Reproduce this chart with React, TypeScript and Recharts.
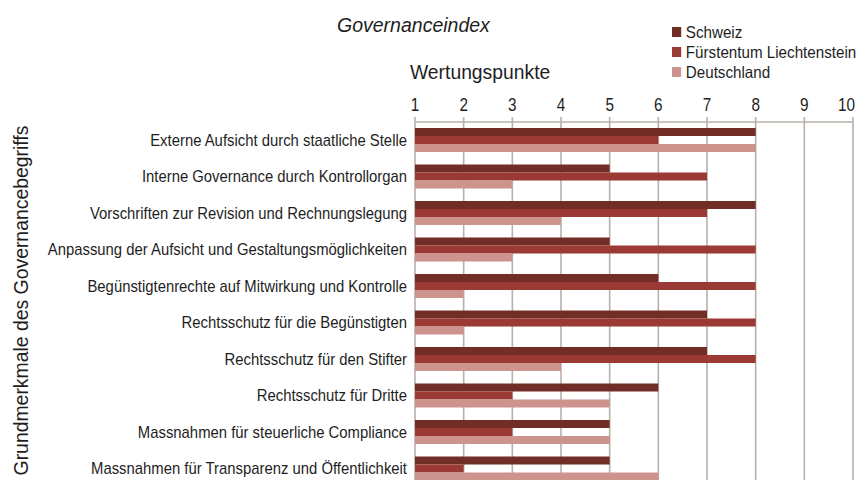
import React from 'react';
import { BarChart, Bar, XAxis, YAxis, CartesianGrid, Legend } from 'recharts';

const categories = [
  'Externe Aufsicht durch staatliche Stelle',
  'Interne Governance durch Kontrollorgan',
  'Vorschriften zur Revision und Rechnungslegung',
  'Anpassung der Aufsicht und Gestaltungsmöglichkeiten',
  'Begünstigtenrechte auf Mitwirkung und Kontrolle',
  'Rechtsschutz für die Begünstigten',
  'Rechtsschutz für den Stifter',
  'Rechtsschutz für Dritte',
  'Massnahmen für steuerliche Compliance',
  'Massnahmen für Transparenz und Öffentlichkeit',
];
const schweiz = [8, 5, 8, 5, 6, 7, 7, 6, 5, 5];
const liechtenstein = [6, 7, 7, 8, 8, 8, 8, 3, 3, 2];
const deutschland = [8, 3, 4, 3, 2, 2, 4, 5, 5, 6];
const xTicks = [1, 2, 3, 4, 5, 6, 7, 8, 9, 10];
const seriesKeys = ['schweiz', 'liechtenstein', 'deutschland'];
const seriesNames = ['Schweiz', 'Fürstentum Liechtenstein', 'Deutschland'];
const seriesColors = ['#722d27', '#9b3935', '#cc948d'];

const title = 'Governanceindex';
const xTitle = 'Wertungspunkte';
const yTitle = 'Grundmerkmale des Governancebegriffs';

const data = categories.map((c, i) => ({
  name: c,
  schweiz: schweiz[i],
  liechtenstein: liechtenstein[i],
  deutschland: deutschland[i],
}));

const FONT = '"Liberation Sans", Arial, sans-serif';
const GRID = '#b9b1a9';
const TEXT = '#1e1e1e';

const LegendContent = () => (
  <div style={{ fontFamily: FONT, fontSize: 16.5, color: TEXT, lineHeight: '20px', transform: 'scaleX(0.92)', transformOrigin: 'left top', whiteSpace: 'nowrap', width: 240 }}>
    {seriesNames.map((n, i) => (
      <div key={n} style={{ display: 'flex', alignItems: 'center' }}>
        <span style={{ display: 'inline-block', flexShrink: 0, width: 10, height: 10, background: seriesColors[i], marginRight: 5 }} />
        <span>{n}</span>
      </div>
    ))}
  </div>
);

const YLabel = (props: any) => {
  const vb = props.viewBox || {};
  const cx = 21;
  const cy = vb.y + vb.height / 2 - 4;
  return (
    <g transform={`translate(${cx}, ${cy}) rotate(-90) scale(0.97, 1)`}>
      <text x={0} y={0} textAnchor="middle" dominantBaseline="central" fontFamily={FONT} fontSize={20} fill={TEXT}>
        {yTitle}
      </text>
    </g>
  );
};

const YTick = (props: any) => {
  const { x, y, payload } = props;
  return (
    <g transform={`translate(${x}, ${y}) scale(0.918, 1)`}>
      <text x={0} y={0} textAnchor="end" dominantBaseline="central" fontFamily={FONT} fontSize={16.2} fill={TEXT}>
        {payload.value}
      </text>
    </g>
  );
};

const XTick = (props: any) => {
  const { x, y, payload, index } = props;
  const isLast = index === xTicks.length - 1;
  return (
    <g transform={`translate(${isLast ? x + 2 : x}, ${y}) scale(0.85, 1)`}>
      <text x={0} y={0} textAnchor={isLast ? 'end' : 'middle'} fontFamily={FONT} fontSize={18} fill={TEXT}>
        {payload.value}
      </text>
    </g>
  );
};

export default function App() {
  return (
    <div style={{ position: 'absolute', left: 0, top: 0, width: 860, height: 480, overflow: 'hidden', background: '#fff' }}>
      <div style={{ position: 'absolute', left: 337, top: 14, fontFamily: FONT, fontStyle: 'italic', fontSize: 19.5, color: TEXT, whiteSpace: 'nowrap' }}>
        {title}
      </div>
      <div style={{ position: 'absolute', left: 410, top: 61, fontFamily: FONT, fontSize: 19.5, color: TEXT, whiteSpace: 'nowrap', transform: 'scaleX(0.99)', transformOrigin: 'left top' }}>
        {xTitle}
      </div>
      <BarChart
        width={860}
        height={490}
        data={data}
        layout="vertical"
        margin={{ top: 90, right: 7, left: 0, bottom: 3 }}
        barGap={0}
        barSize={8}
      >
        <CartesianGrid horizontal={false} stroke={GRID} strokeWidth={1.6} />
        <XAxis
          type="number"
          orientation="top"
          domain={[1, 10]}
          ticks={xTicks}
          interval={0}
          height={32}
          tickSize={5}
          tickMargin={6}
          axisLine={{ stroke: GRID, strokeWidth: 1.6 }}
          tickLine={{ stroke: GRID, strokeWidth: 1.6 }}
          tick={<XTick />}
        />
        <YAxis
          type="category"
          dataKey="name"
          width={415}
          interval={0}
          tickLine={false}
          axisLine={false}
          tickSize={8}
          tickMargin={0}
          tick={<YTick />}
          label={<YLabel />}
        />
        <Legend
          layout="horizontal"
          verticalAlign="middle"
          align="center"
          wrapperStyle={{ left: 672, top: 22, width: 190, height: 62 }}
          content={<LegendContent />}
        />
        {seriesKeys.map((k, i) => (
          <Bar key={k} dataKey={k} name={seriesNames[i]} fill={seriesColors[i]} isAnimationActive={false} />
        ))}
      </BarChart>
    </div>
  );
}
